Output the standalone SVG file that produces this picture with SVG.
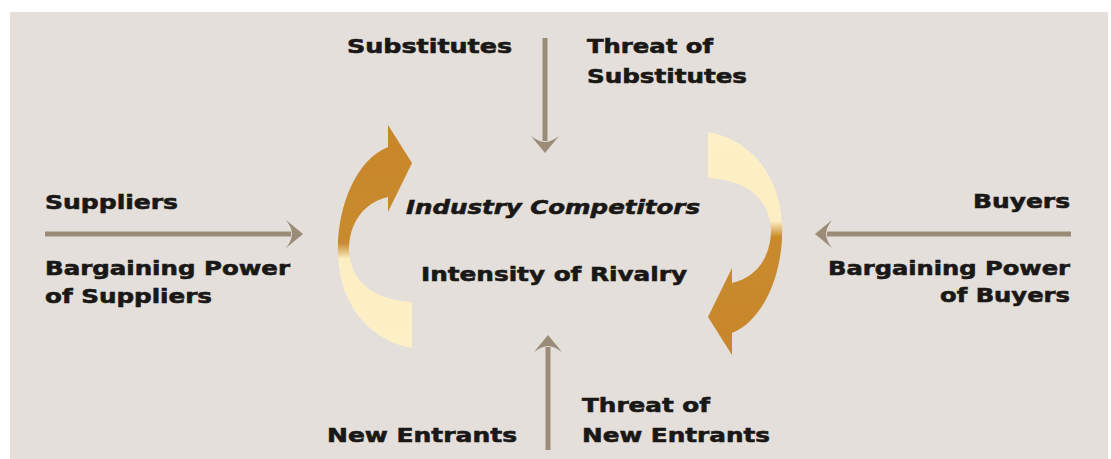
<svg xmlns="http://www.w3.org/2000/svg" width="1111" height="459" viewBox="0 0 1111 459">
<style>
.lbl{font-family:"DejaVu Sans",sans-serif;font-weight:bold;font-size:20px;fill:#1a1816;stroke:#1a1816;stroke-width:0.6}
.it{font-style:italic}
.ln{stroke:#9b8c78;stroke-width:5;fill:none}
</style>
<defs>
<linearGradient id="cg" x1="0" y1="0" x2="0" y2="1">
<stop offset="0" stop-color="#c8862a"/>
<stop offset="0.53" stop-color="#c98a2e"/>
<stop offset="0.6" stop-color="#fdefc3"/>
<stop offset="1" stop-color="#fdf0c6"/>
</linearGradient>
<marker id="ah" markerUnits="userSpaceOnUse" markerWidth="40" markerHeight="40" viewBox="-10 -20 30 40" refX="0" refY="0" orient="auto">
<path d="M12,0 L-5,-14 Q1,-6 1,0 Q1,6 -5,14 Z" fill="#9b8c78"/>
</marker>
<path id="curl" d="M412,348 C375,342 340,310 338,255 C336,210 355,160 388,147 L388,125 L412,163 L388,212 L388,197 C362,203 349,225 349,250 C350,281 373,300 412,302 Z"/>
</defs>
<rect x="10" y="12" width="1098" height="447" fill="#e4dfda"/>
<g id="connectors">
<line class="ln" x1="545" y1="38" x2="545" y2="141" marker-end="url(#ah)"/>
<line class="ln" x1="548" y1="450" x2="548" y2="347" marker-end="url(#ah)"/>
<line class="ln" x1="45" y1="234" x2="291" y2="234" marker-end="url(#ah)"/>
<line class="ln" x1="1071" y1="234" x2="827" y2="234" marker-end="url(#ah)"/>
</g>
<g id="rivalry-cycle">
<use href="#curl" fill="url(#cg)"/>
<use href="#curl" fill="url(#cg)" transform="rotate(180 560 240)"/>
</g>
<g id="industry-competitors">
<text class="lbl it" x="406" y="214" textLength="294" lengthAdjust="spacingAndGlyphs">Industry Competitors</text>
<text class="lbl" x="421" y="281" textLength="266" lengthAdjust="spacingAndGlyphs">Intensity of Rivalry</text>
</g>
<g id="substitutes">
<text class="lbl" x="347" y="53" textLength="165" lengthAdjust="spacingAndGlyphs">Substitutes</text>
<text class="lbl" x="587" y="53" textLength="126" lengthAdjust="spacingAndGlyphs">Threat of</text>
<text class="lbl" x="587" y="83" textLength="160" lengthAdjust="spacingAndGlyphs">Substitutes</text>
</g>
<g id="suppliers">
<text class="lbl" x="45" y="209" textLength="133" lengthAdjust="spacingAndGlyphs">Suppliers</text>
<text class="lbl" x="45" y="275" textLength="245" lengthAdjust="spacingAndGlyphs">Bargaining Power</text>
<text class="lbl" x="45" y="303" textLength="167" lengthAdjust="spacingAndGlyphs">of Suppliers</text>
</g>
<g id="buyers">
<text class="lbl" x="973" y="208" textLength="97" lengthAdjust="spacingAndGlyphs">Buyers</text>
<text class="lbl" x="828" y="275" textLength="242" lengthAdjust="spacingAndGlyphs">Bargaining Power</text>
<text class="lbl" x="940" y="302" textLength="130" lengthAdjust="spacingAndGlyphs">of Buyers</text>
</g>
<g id="new-entrants">
<text class="lbl" x="327" y="442" textLength="190" lengthAdjust="spacingAndGlyphs">New Entrants</text>
<text class="lbl" x="582" y="412" textLength="128" lengthAdjust="spacingAndGlyphs">Threat of</text>
<text class="lbl" x="582" y="442" textLength="188" lengthAdjust="spacingAndGlyphs">New Entrants</text>
</g>
</svg>
